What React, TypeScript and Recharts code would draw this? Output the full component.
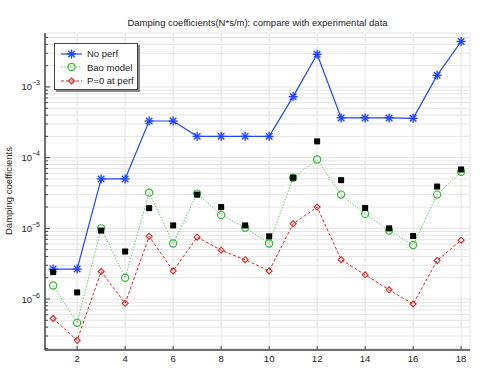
import React from "react";

import {
  CartesianGrid,
  Legend,
  Line,
  LineChart,
  XAxis,
  YAxis,
} from "recharts";

const positions = [1, 2, 3, 4, 5, 6, 7, 8, 9, 10, 11, 12, 13, 14, 15, 16, 17, 18];
const noPerf = [
  2.65e-6, 2.65e-6, 5.0e-5, 5.0e-5, 3.3e-4, 3.3e-4, 2.0e-4, 2.0e-4, 2.0e-4,
  2.0e-4, 7.3e-4, 2.9e-3, 3.65e-4, 3.65e-4, 3.65e-4, 3.6e-4, 1.46e-3, 4.4e-3,
];
const baoModel = [
  1.55e-6, 4.6e-7, 1.0e-5, 2.0e-6, 3.2e-5, 6.1e-6, 3.1e-5, 1.55e-5, 1.02e-5,
  6.1e-6, 5.2e-5, 9.4e-5, 3.0e-5, 1.6e-5, 9.3e-6, 5.8e-6, 3.0e-5, 6.3e-5,
];
const pZero = [
  5.3e-7, 2.6e-7, 2.45e-6, 8.7e-7, 7.7e-6, 2.5e-6, 7.5e-6, 4.9e-6, 3.6e-6,
  2.5e-6, 1.16e-5, 2.0e-5, 3.6e-6, 2.2e-6, 1.35e-6, 8.5e-7, 3.5e-6, 6.8e-6,
];
const experimental = [
  2.4e-6, 1.24e-6, 9.3e-6, 4.7e-6, 1.93e-5, 1.1e-5, 3.0e-5, 2.0e-5, 1.1e-5,
  7.7e-6, 5.2e-5, 1.7e-4, 4.8e-5, 1.94e-5, 1.0e-5, 7.8e-6, 3.9e-5, 6.8e-5,
];

const xTicks = [2, 4, 6, 8, 10, 12, 14, 16, 18];
const decades = [-7, -6, -5, -4, -3];
const mantissas = [1, 2, 3, 4, 5, 6, 7, 8, 9];
const yDomain: [number, number] = [1.9e-7, 5.8e-3];
const xDomain: [number, number] = [0.66, 18.37];

const yTicks = decades
  .flatMap(e => mantissas.map(m => m * Math.pow(10, e)))
  .filter(v => v >= yDomain[0] && v <= yDomain[1]);

const legendNames = ["No perf", "Bao model", "P=0 at perf"];

const data = positions.map((p, i) => ({
  pos: p,
  noPerf: noPerf[i],
  bao: baoModel[i],
  pZero: pZero[i],
  exp: experimental[i],
}));

const FONT = "'Liberation Sans', Arial, sans-serif";
const TEXT = "#222";
const FRAME = "#444";
const BLUE = "#2244ff";
const GREEN_LINE = "#66cc66";
const GREEN = "#33b833";
const RED = "#e02424";

const isMajor = (v: number) => {
  const e = Math.round(Math.log10(v));
  return Math.abs(v - Math.pow(10, e)) / v < 1e-6;
};

const LeftTick = (props: any) => {
  const { x, y, payload } = props;
  const v = payload.value;
  const major = isMajor(v);
  const axisX = x + 5;
  const len = major ? 5 : 3;
  return (
    <g>
      <line x1={axisX} x2={axisX + len} y1={y} y2={y} stroke={FRAME} />
      {major && (
        <text x={x} y={y + 3.5} textAnchor="end" fontSize={9.5} fill={TEXT} fontFamily={FONT}>
          10
          <tspan dy={-5} fontSize={7}>
            {"−" + Math.abs(Math.round(Math.log10(v)))}
          </tspan>
        </text>
      )}
    </g>
  );
};

const RightTick = (props: any) => {
  const { x, y, payload } = props;
  const len = isMajor(payload.value) ? 5 : 3;
  return <line x1={x} x2={x - len} y1={y} y2={y} stroke={FRAME} />;
};

const BottomTick = (props: any) => {
  const { x, y, payload } = props;
  return (
    <g>
      <line x1={x} x2={x} y1={y} y2={y - 4} stroke={FRAME} />
      <text x={x} y={y + 12} textAnchor="middle" fontSize={9.5} fill={TEXT} fontFamily={FONT}>
        {payload.value}
      </text>
    </g>
  );
};

const TopTick = (props: any) => {
  const { x, y } = props;
  return <line x1={x} x2={x} y1={y} y2={y + 4} stroke={FRAME} />;
};

const StarDot = (props: any) => {
  const { cx, cy, key } = props;
  const r = 4.5;
  const d = r * 0.72;
  return (
    <g key={key} stroke={BLUE} strokeWidth={1.4}>
      <line x1={cx - r} x2={cx + r} y1={cy} y2={cy} />
      <line x1={cx} x2={cx} y1={cy - r} y2={cy + r} />
      <line x1={cx - d} x2={cx + d} y1={cy - d} y2={cy + d} />
      <line x1={cx - d} x2={cx + d} y1={cy + d} y2={cy - d} />
    </g>
  );
};

const CircleDot = (props: any) => {
  const { cx, cy, key } = props;
  return <circle key={key} cx={cx} cy={cy} r={3.6} fill="none" stroke={GREEN} strokeWidth={1.2} />;
};

const DiamondDot = (props: any) => {
  const { cx, cy, key } = props;
  const r = 3;
  return (
    <path
      key={key}
      d={`M${cx},${cy - r}L${cx + r},${cy}L${cx},${cy + r}L${cx - r},${cy}Z`}
      fill="none"
      stroke={RED}
      strokeWidth={1.1}
    />
  );
};

const SquareDot = (props: any) => {
  const { cx, cy, key } = props;
  return <rect key={key} x={cx - 3} y={cy - 3} width={6} height={6} fill="#000" />;
};

const LegendBox = () => {
  const rows = [
    { stroke: BLUE, dash: undefined, marker: "star" },
    { stroke: GREEN_LINE, dash: "1.5 1.5", marker: "circle" },
    { stroke: RED, dash: "3 2", marker: "diamond" },
  ];
  return (
    <div
      style={{
        width: 84,
        height: 47,
        border: `1px solid ${FRAME}`,
        boxShadow: "2px 2px 0 #888",
        background: "#fff",
        fontFamily: FONT,
        fontSize: 9.5,
        color: TEXT,
        paddingTop: 3,
        boxSizing: "border-box",
      }}
    >
      {rows.map((r, i) => (
        <div key={legendNames[i]} style={{ display: "flex", alignItems: "center", height: 13.5 }}>
          <svg width={30} height={12}>
            <line x1={6} x2={27} y1={6} y2={6} stroke={r.stroke} strokeWidth={1.2} strokeDasharray={r.dash} />
            {r.marker === "star" && <StarDot cx={16.5} cy={6} />}
            {r.marker === "circle" && <CircleDot cx={16.5} cy={6} />}
            {r.marker === "diamond" && <DiamondDot cx={16.5} cy={6} />}
          </svg>
          <span style={{ marginLeft: 2 }}>{legendNames[i]}</span>
        </div>
      ))}
    </div>
  );
};

const App: React.FC = () => {
  return (
    <div style={{ position: "absolute", left: 0, top: 0, width: 480, height: 370, background: "#fff" }}>
      <div
        style={{
          position: "absolute",
          left: 45,
          width: 425,
          top: 17,
          textAlign: "center",
          fontFamily: FONT,
          fontSize: 9.5,
          color: TEXT,
        }}
      >
        Damping coefficients(N*s/m): compare with experimental data
      </div>
      <div
        style={{
          position: "absolute",
          left: 8,
          top: 191,
          transform: "translate(-50%, -50%) rotate(-90deg)",
          whiteSpace: "nowrap",
          fontFamily: FONT,
          fontSize: 9.5,
          color: TEXT,
        }}
      >
        Damping coefficients
      </div>
      <LineChart
        width={480}
        height={370}
        data={data}
        margin={{ top: 33, right: 10, bottom: 0, left: 0 }}
        style={{ position: "absolute", left: 0, top: 0 }}
      >
        <CartesianGrid stroke="#e4e4e4" strokeWidth={1} />
        <XAxis
          dataKey="pos"
          type="number"
          domain={xDomain}
          allowDataOverflow
          ticks={xTicks}
          interval={0}
          height={20}
          tickSize={0}
          tickMargin={0}
          tickLine={false}
          axisLine={{ stroke: FRAME, strokeWidth: 1.5 }}
          tick={(p: any) => <BottomTick {...p} />}
        />
        <XAxis
          xAxisId="top"
          orientation="top"
          dataKey="pos"
          type="number"
          domain={xDomain}
          allowDataOverflow
          ticks={xTicks}
          interval={0}
          height={0}
          tickSize={0}
          tickMargin={0}
          tickLine={false}
          axisLine={{ stroke: FRAME, strokeWidth: 1.5 }}
          tick={(p: any) => <TopTick {...p} />}
        />
        <YAxis
          scale="log"
          domain={yDomain}
          allowDataOverflow
          ticks={yTicks}
          interval={0}
          width={45}
          tickSize={0}
          tickMargin={5}
          tickLine={false}
          axisLine={{ stroke: FRAME, strokeWidth: 1.5 }}
          tick={(p: any) => <LeftTick {...p} />}
        />
        <YAxis
          yAxisId="right"
          orientation="right"
          scale="log"
          domain={yDomain}
          allowDataOverflow
          ticks={yTicks}
          interval={0}
          width={0}
          tickSize={0}
          tickMargin={0}
          tickLine={false}
          axisLine={{ stroke: FRAME, strokeWidth: 1.5 }}
          tick={(p: any) => <RightTick {...p} />}
        />
        <Line
          dataKey="noPerf"
          stroke={BLUE}
          strokeWidth={1.2}
          dot={(p: any) => <StarDot {...p} />}
          isAnimationActive={false}
        />
        <Line
          dataKey="bao"
          stroke={GREEN_LINE}
          strokeWidth={1}
          strokeDasharray="1.5 1.5"
          dot={(p: any) => <CircleDot {...p} />}
          isAnimationActive={false}
        />
        <Line
          dataKey="pZero"
          stroke={RED}
          strokeWidth={1}
          strokeDasharray="3 2"
          dot={(p: any) => <DiamondDot {...p} />}
          isAnimationActive={false}
        />
        <Line
          dataKey="exp"
          stroke="none"
          dot={(p: any) => <SquareDot {...p} />}
          isAnimationActive={false}
        />
        <Legend
          layout="horizontal"
          verticalAlign="middle"
          align="center"
          wrapperStyle={{ left: 54, top: 43, width: 86, height: 49 }}
          content={() => <LegendBox />}
        />
      </LineChart>
    </div>
  );
};

export default App;
